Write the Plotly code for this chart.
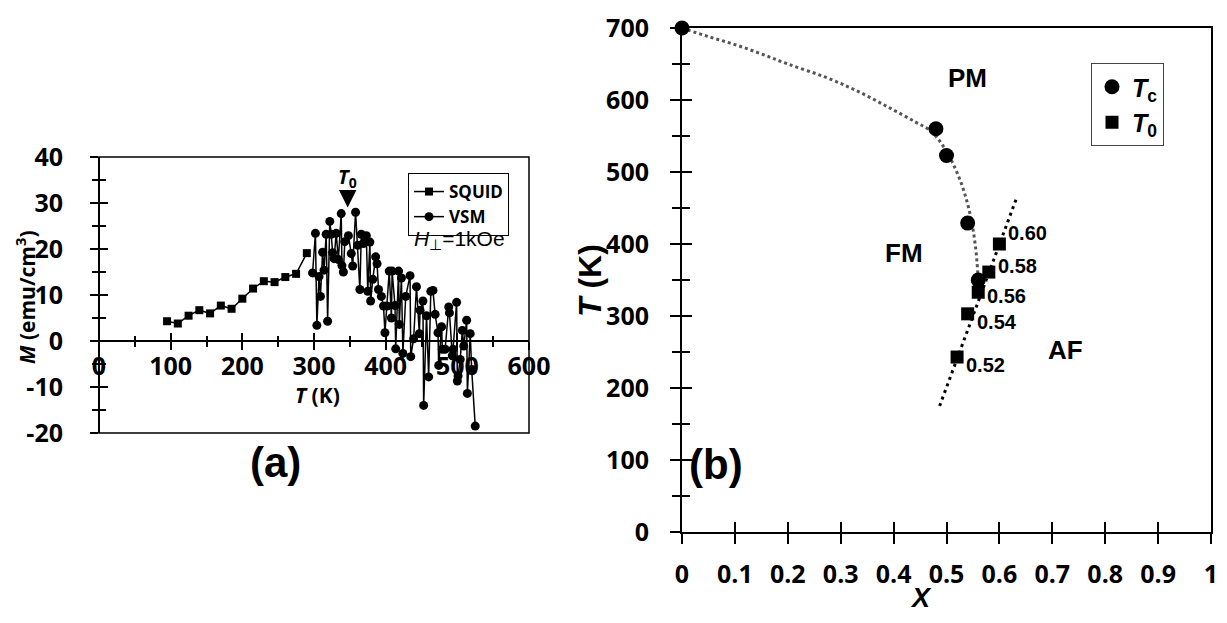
import plotly.graph_objects as go

PAGE_OFFSET = 8                       # default body margin of the page holding the figure
W, H = 1227 - 2 * PAGE_OFFSET, 623 - 2 * PAGE_OFFSET

# ---------------- Panel (a) data ----------------
squid_T = [95, 110, 125, 140, 155, 170, 185, 200, 215, 230, 245, 260, 275, 290]
squid_M = [4.3, 3.8, 5.5, 6.7, 6.0, 7.7, 7.0, 9.2, 11.4, 13.0, 12.8, 13.9, 14.6, 19.1]

vsm_T = [298, 302, 304, 307, 309, 312, 314, 317, 319, 322, 324, 326, 328, 331, 334,
         338, 339, 341, 343, 348, 352, 354, 358, 361, 364, 366, 369, 373, 375, 378,
         379, 382, 386, 388, 390, 394, 397, 399, 402, 405, 408, 409, 413, 414, 418,
         419, 422, 424, 428, 434, 435, 439, 443, 447, 448, 452, 453, 457, 460, 463,
         466, 469, 473, 474, 478, 479, 483, 488, 489, 493, 494, 499, 500, 501, 504,
         507, 509, 513, 514, 518, 520, 525]
vsm_M = [14.8, 23.4, 3.4, 14.0, 9.7, 19.3, 15.4, 23.2, 4.3, 26.0, 23.2, 19.2, 17.9, 23.4, 17.7,
         27.7, 16.4, 15.0, 21.6, 22.9, 19.0, 16.3, 28.0, 20.8, 11.2, 23.2, 21.2, 22.9, 10.8, 21.5,
         8.7, 13.4, 18.3, 16.8, 11.2, 9.7, 7.6, 1.8, 7.6, 15.2, 5.0, 15.2, 7.7, -1.7, 15.2,
         3.6, 13.7, -2.7, 9.7, 14.2, -3.4, 0.5, 11.8, 1.6, 6.7, 8.7, -14.0, 5.5, -7.8, 10.8,
         11.0, 5.8, 1.8, -5.3, 3.1, -1.8, -1.8, 7.4, 6.1, -3.2, -1.8, 8.4, -8.7, -7.6, -4.0,
         2.3, -1.1, 4.5, -11.4, 1.6, -6.2, -18.5]

a_xticks = [0, 100, 200, 300, 400, 500, 600]
a_yticks = [-20, -10, 0, 10, 20, 30, 40]
a_ylabels = ["-20", "-10", "0", "10", "20", "30", "40"]
t0_arrow_T, t0_arrow_M = 347, 29

# ---------------- Panel (b) data ----------------
tc_x = [0.0, 0.48, 0.50, 0.54, 0.56]
tc_T = [700, 560, 523, 429, 350]
t0_x = [0.52, 0.54, 0.56, 0.58, 0.60]
t0_T = [243, 303, 333, 361, 400]
t0_labels = ["0.52", "0.54", "0.56", "0.58", "0.60"]
t0_label_dy = [-8, -8, -4, 6, 11]

tc_fit_x = [0.0, 0.05, 0.1, 0.15, 0.2, 0.27, 0.33, 0.39, 0.44, 0.47, 0.49, 0.51, 0.53, 0.545, 0.555, 0.56]
tc_fit_T = [700, 688, 677, 664, 650, 632, 613, 590, 570, 557, 540, 515, 480, 440, 395, 350]
t0_fit_x = [0.487, 0.633]
t0_fit_T = [175, 465]

phase_labels = ["PM", "FM", "AF"]
phase_x = [0.54, 0.42, 0.725]
phase_T = [630, 388, 253]

# ---------------- layout geometry (screen pixels -> paper) ----------------
def PX(x):
    return (x - PAGE_OFFSET) / W

def PY(y):
    return 1 - (y - PAGE_OFFSET) / H

a_dom_x = [PX(99), PX(529)]
a_dom_y = [PY(433), PY(157)]
a_xrange = [0, 600]
a_yrange = [-20, 40]
a_zero_pos = a_dom_y[0] + (0 - a_yrange[0]) / (a_yrange[1] - a_yrange[0]) * (a_dom_y[1] - a_dom_y[0])

b_dom_x = [PX(682), PX(1211)]
b_dom_y = [PY(532), PY(28)]

CAL = "Open Sans"
ARI = "Liberation Sans"
tickfont = dict(family=CAL, size=25, color="black", weight="bold")

fig = go.Figure()

# Panel (a) traces
fig.add_trace(go.Scatter(x=squid_T, y=squid_M, mode="lines+markers", name="SQUID",
                         line=dict(color="black", width=1.5),
                         marker=dict(symbol="square", size=8, color="black"),
                         xaxis="x", yaxis="y", legend="legend", cliponaxis=False))
fig.add_trace(go.Scatter(x=vsm_T, y=vsm_M, mode="lines+markers", name="VSM",
                         line=dict(color="black", width=1.5),
                         marker=dict(symbol="circle", size=9, color="black"),
                         xaxis="x", yaxis="y", legend="legend", cliponaxis=False))
fig.add_trace(go.Scatter(x=[None], y=[None], xaxis="x3", yaxis="y3",
                         showlegend=False, hoverinfo="skip"))

# Panel (b) traces
fig.add_trace(go.Scatter(x=tc_fit_x, y=tc_fit_T, mode="lines",
                         line=dict(color="#555555", width=3, dash="3px,3px", shape="spline"),
                         xaxis="x2", yaxis="y2", showlegend=False, hoverinfo="skip"))
fig.add_trace(go.Scatter(x=t0_fit_x, y=t0_fit_T, mode="lines",
                         line=dict(color="black", width=3, dash="3px,4px"),
                         xaxis="x2", yaxis="y2", showlegend=False, hoverinfo="skip"))
fig.add_trace(go.Scatter(x=tc_x, y=tc_T, mode="markers", name="<i>T</i><sub>c</sub>",
                         marker=dict(symbol="circle", size=15, color="black"),
                         xaxis="x2", yaxis="y2", legend="legend2", cliponaxis=False))
fig.add_trace(go.Scatter(x=t0_x, y=t0_T, mode="markers", name="<i>T</i><sub>0</sub>",
                         marker=dict(symbol="square", size=13, color="black"),
                         xaxis="x2", yaxis="y2", legend="legend2", cliponaxis=False))
fig.add_trace(go.Scatter(x=[None], y=[None], xaxis="x4", yaxis="y4",
                         showlegend=False, hoverinfo="skip"))

common = dict(showgrid=False, zeroline=False, color="black", automargin=False)

fig.update_layout(
    width=W, height=H, autosize=False,
    margin=dict(l=0, r=0, t=0, b=0, pad=0, autoexpand=False),
    paper_bgcolor="white", plot_bgcolor="white",
    showlegend=True,
    # panel (a) axes
    xaxis=dict(domain=a_dom_x, range=a_xrange, anchor="free", position=a_zero_pos,
               showline=True, linewidth=2, linecolor="black",
               tickmode="array", tickvals=a_xticks,
               ticks="outside", ticklen=8, tickwidth=2, tickcolor="black",
               minor=dict(ticks="outside", ticklen=5, tickwidth=1.5, dtick=50, tick0=0, tickcolor="black"),
               tickfont=tickfont, ticklabelstandoff=-5, ticklabeloverflow="allow", **common),
    xaxis3=dict(overlaying="x", range=a_xrange, anchor="free", position=a_zero_pos,
                showline=False, showticklabels=False,
                tickmode="array", tickvals=a_xticks,
                ticks="inside", ticklen=8, tickwidth=2, tickcolor="black",
                minor=dict(ticks="inside", ticklen=5, tickwidth=1.5, dtick=50, tick0=0, tickcolor="black"),
                **common),
    yaxis=dict(domain=a_dom_y, range=a_yrange, anchor="free", position=a_dom_x[0],
               showline=True, linewidth=2, linecolor="black",
               tickmode="array", tickvals=a_yticks, ticktext=a_ylabels,
               ticks="outside", ticklen=8, tickwidth=2, tickcolor="black",
               minor=dict(ticks="outside", ticklen=6, tickwidth=1.5, dtick=5, tick0=0, tickcolor="black"),
               tickfont=tickfont, ticklabelstandoff=22, ticklabeloverflow="allow", **common),
    yaxis3=dict(overlaying="y", range=a_yrange, anchor="free", position=a_dom_x[0],
                showline=False, showticklabels=False,
                tickmode="array", tickvals=a_yticks,
                ticks="inside", ticklen=8, tickwidth=2, tickcolor="black",
                minor=dict(ticks="inside", ticklen=6, tickwidth=1.5, dtick=5, tick0=0, tickcolor="black"),
                **common),
    # panel (b) axes
    xaxis2=dict(domain=b_dom_x, range=[0, 1], anchor="y2",
                showline=True, linewidth=2, linecolor="black", mirror=True,
                dtick=0.1, tick0=0,
                ticks="outside", ticklen=10, tickwidth=2, tickcolor="black",
                tickfont=tickfont, ticklabelstandoff=9, ticklabeloverflow="allow", **common),
    xaxis4=dict(overlaying="x2", range=[0, 1], anchor="y2",
                showline=False, showticklabels=False, dtick=0.1, tick0=0,
                ticks="inside", ticklen=10, tickwidth=2, tickcolor="black", **common),
    yaxis2=dict(domain=b_dom_y, range=[0, 700], anchor="x2",
                showline=True, linewidth=2, linecolor="black", mirror=True,
                dtick=100, tick0=0,
                ticks="outside", ticklen=10, tickwidth=2, tickcolor="black",
                minor=dict(ticks="outside", ticklen=8, tickwidth=1.5, dtick=50, tick0=0, tickcolor="black"),
                tickfont=tickfont, ticklabelstandoff=16, ticklabeloverflow="allow", **common),
    yaxis4=dict(overlaying="y2", range=[0, 700], anchor="x2",
                showline=False, showticklabels=False, dtick=100, tick0=0,
                ticks="inside", ticklen=10, tickwidth=2, tickcolor="black",
                minor=dict(ticks="inside", ticklen=8, tickwidth=1.5, dtick=50, tick0=0, tickcolor="black"),
                **common),
    legend=dict(x=PX(408), y=PY(173), xanchor="left", yanchor="top",
                bordercolor="black", borderwidth=1, bgcolor="white",
                font=dict(family=CAL, size=17, color="black", weight="bold"),
                itemwidth=30, tracegroupgap=0),
    legend2=dict(x=PX(1091), y=PY(63), xanchor="left", yanchor="top",
                 bordercolor="#444444", borderwidth=1, bgcolor="white",
                 font=dict(family=ARI, size=25, color="black", weight="bold"),
                 itemwidth=30, tracegroupgap=0),
)

# plot frame for panel (a)
fig.add_shape(type="rect", xref="x domain", yref="y domain", x0=0, x1=1, y0=0, y1=1,
              line=dict(color="black", width=1.5), layer="above")

ann = []
def txt(text, x, y, size, family=ARI, angle=0, xref="paper", yref="paper", weight="bold", **kw):
    d = dict(text=text, x=x, y=y, xref=xref, yref=yref, showarrow=False,
             textangle=angle, xanchor="center", yanchor="middle",
             font=dict(family=family, size=size, color="black", weight=weight))
    d.update(kw)
    ann.append(d)

# axis titles
txt("<i>M</i> (emu/cm<sup>3</sup>)", PX(25), PY(297), 21, family=CAL, angle=-90)
txt("<i>T</i> (K)", PX(318), PY(395), 21, family=CAL)
txt("<i>T</i> (K)", PX(590), PY(281), 32, angle=-90)
txt("<i>X</i>", PX(921), PY(598), 27)
# panel labels
txt("(a)", PX(275), PY(462), 42)
txt("(b)", PX(716), PY(464), 42)
txt("<i>H</i><sub>⊥</sub>=1kOe", PX(459), PY(240), 21, weight="normal")
# phase labels
for lab, px_, pt_ in zip(phase_labels, phase_x, phase_T):
    txt(lab, px_, pt_, 26, xref="x2", yref="y2")
# T0 point labels
for lab, px_, pt_, dy in zip(t0_labels, t0_x, t0_T, t0_label_dy):
    txt(lab, px_, pt_, 20, xref="x2", yref="y2", xanchor="left", xshift=7, yshift=dy)
# T0 arrow in panel (a)
ann.append(dict(text="<i>T</i><sub>0</sub>", x=t0_arrow_T, y=t0_arrow_M, xref="x", yref="y",
                showarrow=True, ax=0, ay=-30, arrowhead=2, arrowsize=1.4, arrowwidth=2.5,
                arrowcolor="black", font=dict(family=CAL, size=20, color="black", weight="bold")))

fig.update_layout(annotations=ann)
fig.write_html("out.html")
